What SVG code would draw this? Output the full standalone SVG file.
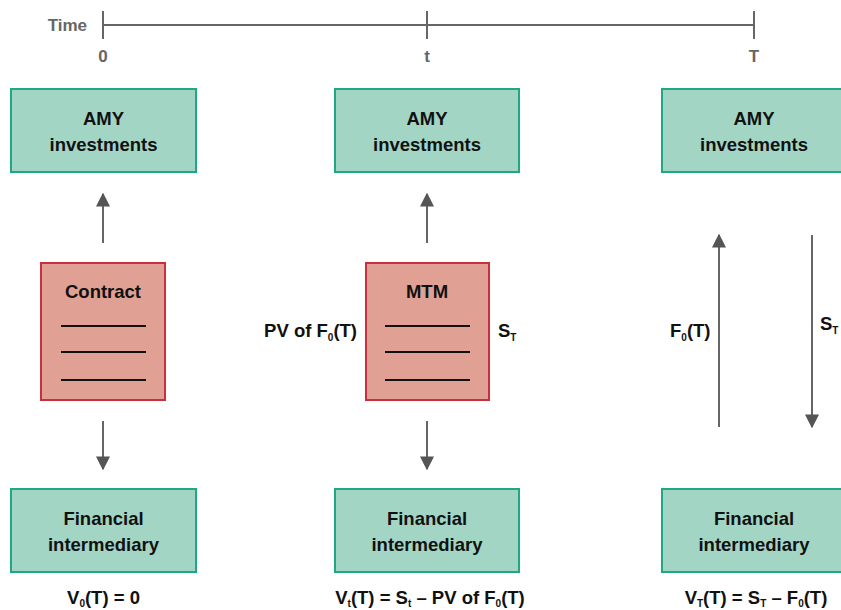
<svg xmlns="http://www.w3.org/2000/svg" width="841" height="610" viewBox="0 0 841 610">
<style>
text{font-family:"Liberation Sans",Arial,sans-serif;font-weight:bold;fill:#111;}
.g{fill:#a3d5c5;stroke:#20a882;stroke-width:2;}
.r{fill:#e0a093;stroke:#c8303e;stroke-width:2;}
.lbl{font-size:18.5px;text-anchor:middle;}
.lbe{font-size:18.5px;text-anchor:end;}
.lbs{font-size:18.5px;text-anchor:start;}
.ax{stroke:#666;stroke-width:2;fill:none;}
.axt{fill:#666;font-size:17px;}
.c{stroke:#666;stroke-width:2;fill:none;}
.ln{stroke:#111;stroke-width:2;}
.sub{font-size:10px;}
</style>
<defs>
<marker id="ah" viewBox="0 0 10 10" refX="9" refY="5" markerWidth="14" markerHeight="14" markerUnits="userSpaceOnUse" orient="auto">
<path d="M0,0 L10,5 L0,10 z" fill="#555"/>
</marker>
</defs>
<g id="timeline">
<line class="ax" x1="103" y1="25" x2="754" y2="25"/>
<line class="ax" x1="103" y1="11" x2="103" y2="39"/>
<line class="ax" x1="427" y1="11" x2="427" y2="39"/>
<line class="ax" x1="754" y1="11" x2="754" y2="39"/>
<text class="axt" x="87" y="31" text-anchor="end">Time</text>
<text class="axt" x="103" y="62" text-anchor="middle">0</text>
<text class="axt" x="427" y="62" text-anchor="middle">t</text>
<text class="axt" x="754" y="62" text-anchor="middle">T</text>
</g>
<g id="amy0"><rect class="g" x="11" y="89" width="185" height="83"/><text class="lbl" x="103.5" y="125">AMY</text><text class="lbl" x="103.5" y="151">investments</text></g>
<g id="amyt"><rect class="g" x="335" y="89" width="184" height="83"/><text class="lbl" x="427" y="125">AMY</text><text class="lbl" x="427" y="151">investments</text></g>
<g id="amyT"><rect class="g" x="662" y="89" width="185" height="83"/><text class="lbl" x="754" y="125">AMY</text><text class="lbl" x="754" y="151">investments</text></g>
<g id="contract"><rect class="r" x="41" y="263" width="124" height="137"/><text class="lbl" x="103" y="298">Contract</text>
<line class="ln" x1="61" y1="326" x2="146" y2="326"/><line class="ln" x1="61" y1="352" x2="146" y2="352"/><line class="ln" x1="61" y1="380" x2="146" y2="380"/></g>
<g id="mtm"><rect class="r" x="366" y="263" width="123" height="137"/><text class="lbl" x="427" y="298">MTM</text>
<line class="ln" x1="385" y1="326" x2="470" y2="326"/><line class="ln" x1="385" y1="352" x2="470" y2="352"/><line class="ln" x1="385" y1="380" x2="470" y2="380"/></g>
<g id="fi0"><rect class="g" x="11" y="489" width="185" height="83"/><text class="lbl" x="103.5" y="525">Financial</text><text class="lbl" x="103.5" y="551">intermediary</text></g>
<g id="fit"><rect class="g" x="335" y="489" width="184" height="83"/><text class="lbl" x="427" y="525">Financial</text><text class="lbl" x="427" y="551">intermediary</text></g>
<g id="fiT"><rect class="g" x="662" y="489" width="185" height="83"/><text class="lbl" x="754" y="525">Financial</text><text class="lbl" x="754" y="551">intermediary</text></g>
<g id="connectors">
<line class="c" x1="103" y1="243" x2="103" y2="194" marker-end="url(#ah)"/>
<line class="c" x1="103" y1="421" x2="103" y2="469" marker-end="url(#ah)"/>
<line class="c" x1="427" y1="243" x2="427" y2="194" marker-end="url(#ah)"/>
<line class="c" x1="427" y1="421" x2="427" y2="469" marker-end="url(#ah)"/>
<line class="c" x1="719" y1="427" x2="719" y2="235" marker-end="url(#ah)"/>
<line class="c" x1="812" y1="235" x2="812" y2="427" marker-end="url(#ah)"/>
</g>
<g id="labels">
<text class="lbe" x="357" y="337">PV of F<tspan class="sub" dy="4">0</tspan><tspan dy="-4">(T)</tspan></text>
<text class="lbs" x="498" y="337">S<tspan class="sub" dy="4">T</tspan></text>
<text class="lbs" x="670" y="337">F<tspan class="sub" dy="4">0</tspan><tspan dy="-4">(T)</tspan></text>
<text class="lbs" x="820" y="330">S<tspan class="sub" dy="4">T</tspan></text>
<text class="lbl" x="103.5" y="604">V<tspan class="sub" dy="3">0</tspan><tspan dy="-3">(T) = 0</tspan></text>
<text class="lbl" x="430" y="604">V<tspan class="sub" dy="3">t</tspan><tspan dy="-3">(T) = S</tspan><tspan class="sub" dy="3">t</tspan><tspan dy="-3"> – PV of F</tspan><tspan class="sub" dy="3">0</tspan><tspan dy="-3">(T)</tspan></text>
<text class="lbl" x="756" y="604">V<tspan class="sub" dy="3">T</tspan><tspan dy="-3">(T) = S</tspan><tspan class="sub" dy="3">T</tspan><tspan dy="-3"> – F</tspan><tspan class="sub" dy="3">0</tspan><tspan dy="-3">(T)</tspan></text>
</g>
</svg>
